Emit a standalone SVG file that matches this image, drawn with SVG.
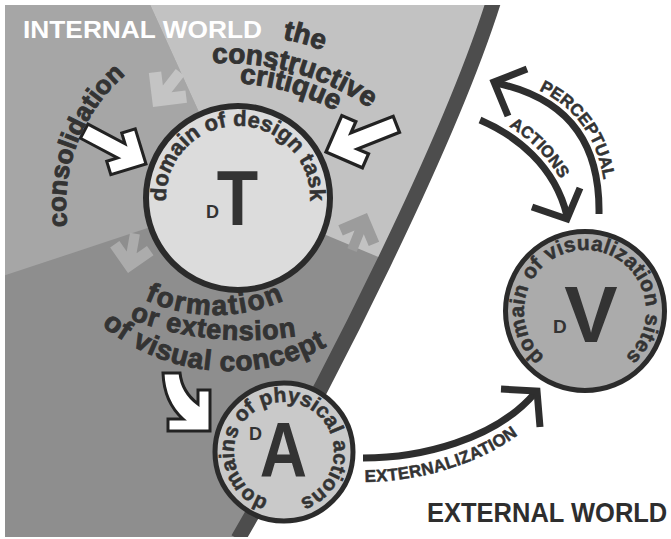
<svg xmlns="http://www.w3.org/2000/svg" width="671" height="539" viewBox="0 0 671 539">
<style>
.t{font-family:"Liberation Sans",Arial,sans-serif;font-weight:bold;fill:#333}
.hv{stroke:#333;stroke-width:0.9}
.md{stroke:#333;stroke-width:0.5}
.blk{fill:#fff;stroke:#222;stroke-width:3;stroke-linejoin:miter}
.ln{fill:none;stroke:#2e2e2e;stroke-width:7;stroke-linejoin:miter}
.circ{stroke:#2b2b2b}
</style>
<defs>
<clipPath id="frame"><rect x="5" y="5" width="666" height="532"/></clipPath>
<path id="block" d="M0,0 L-26,-26 L-36,-16 L-28,-8 L-70,-8 L-70,8 L-28,8 L-36,16 L-26,26 Z"/>
<path id="chev" d="M0,0 L-22,-22 L-30,-14 L-21,-5 L-40,-5 L-40,5 L-21,5 L-30,14 L-22,22 Z"/>
<path id="p-cons" d="M89,291 A172 172 0 0 1 184.9,41.4"/>
<path id="p-the" d="M128.2,50.1 A283 283 0 0 1 448,141.8"/>
<path id="p-con" d="M138.5,78.3 A253 253 0 0 1 424.4,160.2"/>
<path id="p-cri" d="M145.3,97 A233 233 0 0 1 408.6,172.5"/>
<path id="p-dT" d="M167.1,210.5 A72 72 0 1 1 308.9,210.5"/>
<path id="p-f1" d="M84.8,254.3 A170 170 0 0 0 345.2,254.3"/>
<path id="p-f2" d="M102.3,307.5 A329 329 0 0 0 326.3,329.8"/>
<path id="p-f3" d="M74,297.9 A203 203 0 0 0 359.9,324"/>
<path id="p-V" d="M554.5,363.8 A61 61 0 1 1 615.5,363.8"/>
<path id="p-A" d="M275.3,501.2 A50 50 0 1 1 292.7,501.2"/>
<path id="p-perc" d="M501,78 C580,95 605,145 606,210"/>
<path id="p-act" d="M485,114 C520,129 560,159 572,210"/>
<path id="p-ext" d="M365,482 C420,482 490,462 530,425"/>
</defs>

<rect width="671" height="539" fill="#fff"/>
<g id="worlds" clip-path="url(#frame)">
  <rect x="0" y="0" width="671" height="539" fill="#8e8e8e"/>
  <polygon points="0,0 148,0 238,198 0,277" fill="#a6a6a6"/>
  <polygon points="148,0 671,0 671,380 238,198" fill="#c2c2c2"/>
  <use href="#chev" fill="#c4c4c4" transform="translate(153,107) rotate(128) scale(1.1)"/>
  <use href="#chev" fill="#acacac" transform="translate(128,273) rotate(100)"/>
  <use href="#chev" fill="#9c9c9c" transform="translate(367,213) rotate(-68)"/>
  <path d="M494,0 C450,140 330,380 238,539 L671,539 L671,0 Z" fill="#fff"/>
  <path d="M494,0 C450,140 330,380 238,539" fill="none" stroke="#4d4d4d" stroke-width="15"/>
</g>

<g id="titles">
  <text class="t" x="23" y="38" font-size="24" style="fill:#fff" textLength="239" lengthAdjust="spacingAndGlyphs">INTERNAL WORLD</text>
  <text class="t" transform="translate(427,522) scale(1,1.1)" font-size="25.5" style="fill:#2e2e2e">EXTERNAL WORLD</text>
</g>

<g id="connectors">
  <use href="#block" class="blk" transform="translate(146,164) rotate(28)"/>
  <use href="#block" class="blk" transform="translate(326,152) rotate(158.5) scale(1.08)"/>
  <path class="blk" d="M163,373 L180,373 Q182,392 198,404 L198,390 L210,390 L210,431 L168,431 L168,419 L183,419 Q164,402 163,373 Z"/>
  <path class="ln" d="M599,214 C600,150 575,100 496,83"/>
  <path class="ln" d="M527,69 L494,82 L508,116"/>
  <path class="ln" d="M480,120 C515,135 555,165 567,216"/>
  <path class="ln" d="M532,207 L567,219 L580,188"/>
  <path class="ln" d="M363,458 C420,458 495,440 535,393"/>
  <path class="ln" d="M501,389 L537,391 L540,427"/>
  <text class="t md" font-size="17"><textPath href="#p-perc" startOffset="40">PERCEPTUAL</textPath></text>
  <text class="t md" font-size="16.5"><textPath href="#p-act" startOffset="27">ACTIONS</textPath></text>
  <text class="t md" font-size="17" letter-spacing="0.3"><textPath href="#p-ext">EXTERNALIZATION</textPath></text>
</g>

<g id="flow-labels">
  <text class="t hv" font-size="26" text-anchor="middle"><textPath href="#p-cons" startOffset="50%">consolidation</textPath></text>
  <text class="t hv" font-size="28" text-anchor="middle"><textPath href="#p-the" startOffset="50%">the</textPath></text>
  <text class="t hv" font-size="28" text-anchor="middle"><textPath href="#p-con" startOffset="50%">constructive</textPath></text>
  <text class="t hv" font-size="28" text-anchor="middle"><textPath href="#p-cri" startOffset="50%">critique</textPath></text>
  <text class="t hv" font-size="28" text-anchor="middle" letter-spacing="1.8"><textPath href="#p-f1" startOffset="50%">formation</textPath></text>
  <text class="t hv" font-size="27" text-anchor="middle" letter-spacing="0.8"><textPath href="#p-f2" startOffset="50%">or extension</textPath></text>
  <text class="t hv" font-size="28" text-anchor="middle" letter-spacing="0.7"><textPath href="#p-f3" startOffset="50%">of visual concept</textPath></text>
</g>

<g id="node-T">
  <circle class="circ" cx="238" cy="198" r="92" fill="#dcdcdc" stroke-width="6"/>
  <text class="t md" font-size="22" text-anchor="middle"><textPath href="#p-dT" startOffset="50%">domain of design task</textPath></text>
  <text class="t" x="206" y="218" font-size="18">D</text>
  <text class="t" transform="translate(237.5,225) scale(0.88,1)" text-anchor="middle" font-size="77">T</text>
</g>

<g id="node-A">
  <circle class="circ" cx="284" cy="452" r="69" fill="#c9c9c9" stroke-width="5"/>
  <text class="t md" font-size="21" text-anchor="middle"><textPath href="#p-A" startOffset="50%">domains of physical actions</textPath></text>
  <text class="t" x="249" y="440" font-size="18">D</text>
  <text class="t" transform="translate(283.5,477) scale(0.85,1)" text-anchor="middle" font-size="77">A</text>
</g>

<g id="node-V">
  <circle class="circ" cx="585" cy="311" r="79.5" fill="#ababab" stroke-width="5"/>
  <text class="t md" font-size="21" text-anchor="middle" letter-spacing="0.3"><textPath href="#p-V" startOffset="50%">domain of visualization sites</textPath></text>
  <text class="t" x="553" y="333" font-size="19">D</text>
  <text class="t" x="591" y="342" text-anchor="middle" font-size="80">V</text>
</g>
</svg>
